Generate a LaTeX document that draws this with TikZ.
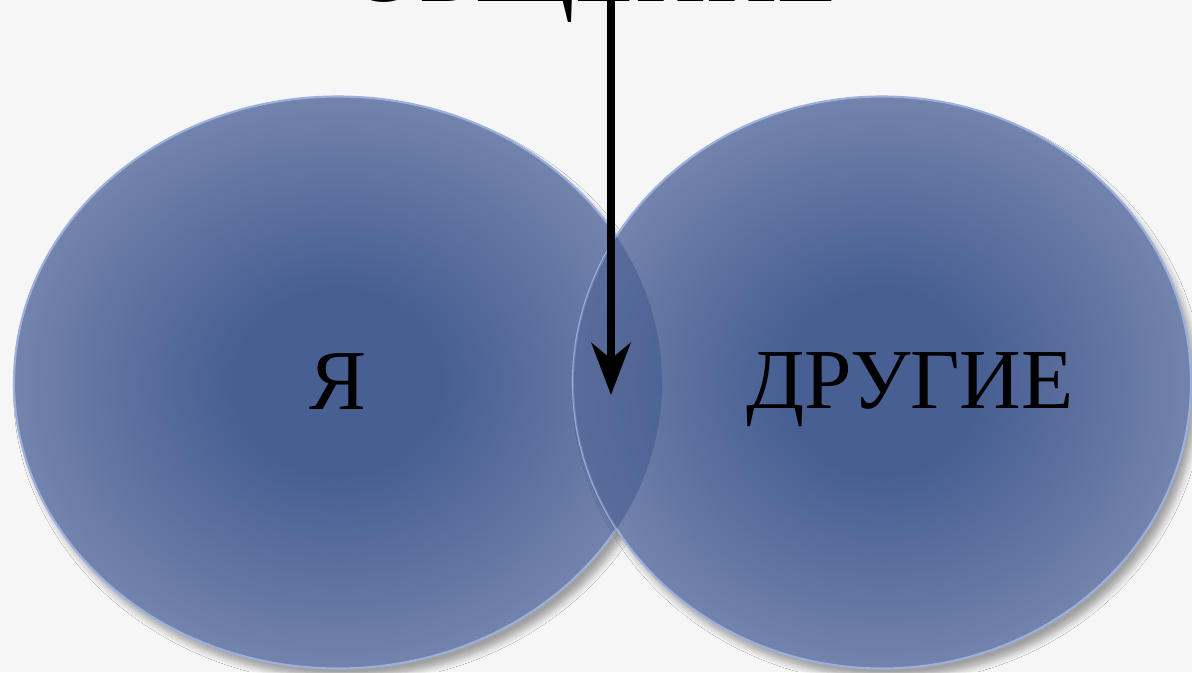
\documentclass[tikz,border=0pt]{standalone}
\usepackage{fontspec}
\setmainfont{Liberation Serif}
\usepackage{xcolor}
\usetikzlibrary{arrows.meta,shapes.geometric,shadows.blur}

\definecolor{bgcol}{RGB}{246,246,246}
\definecolor{blobin}{RGB}{72,95,147}
\definecolor{blobout}{RGB}{114,131,172}
\definecolor{blobrim}{RGB}{156,176,222}
\definecolor{lenscol}{RGB}{58,82,136}
\pgfdeclareradialshading{blob}{\pgfpoint{0bp}{0bp}}{%
  color(0bp)=(blobin); color(8bp)=(blobin); color(25bp)=(blobout); color(50bp)=(blobout)}

\begin{document}
\begin{tikzpicture}[line width=1.3pt,
  blob/.style={ellipse, inner sep=0pt, shading=blob, draw=blobrim, line width=0.6pt,
    blur shadow={shadow xshift=0.6mm, shadow yshift=-0.9mm, shadow blur steps=6, shadow opacity=35}},
  word/.style={font=\fontsize{24.3}{28}\selectfont, text=black, inner sep=0pt}]

\useasboundingbox (0,0) rectangle (11.92,6.72);
\fill[bgcol] (0,0) rectangle (11.92,6.72);

% Two circles
\node[blob, minimum width=6.48cm, minimum height=5.72cm] (me) at (3.38,2.895) {};
\node[blob, minimum width=6.18cm, minimum height=5.72cm] (others) at (8.82,2.895) {};

% Overlap
\begin{scope}
  \clip (me.center) ellipse [x radius=3.24cm, y radius=2.86cm];
  \fill[lenscol, opacity=0.45] (others.center) ellipse [x radius=3.09cm, y radius=2.86cm];
\end{scope}

% Labels
\node[word] (melbl) at (3.38,2.90) {Я};
\node[word] (otherslbl) at (9.10,2.82) {ДРУГИЕ};
\node[word, font=\fontsize{28}{32}\selectfont, anchor=base] (comm) at (5.93,6.705) {ОБЩЕНИЕ};

% Arrow
\coordinate (src) at (6.11,6.72);
\coordinate (tip) at (6.11,2.77);
\draw[line width=2.3pt, -{Stealth[length=5.2mm, width=3.9mm, inset=1.6mm]}] (src) -- (tip);

\end{tikzpicture}
\end{document}
